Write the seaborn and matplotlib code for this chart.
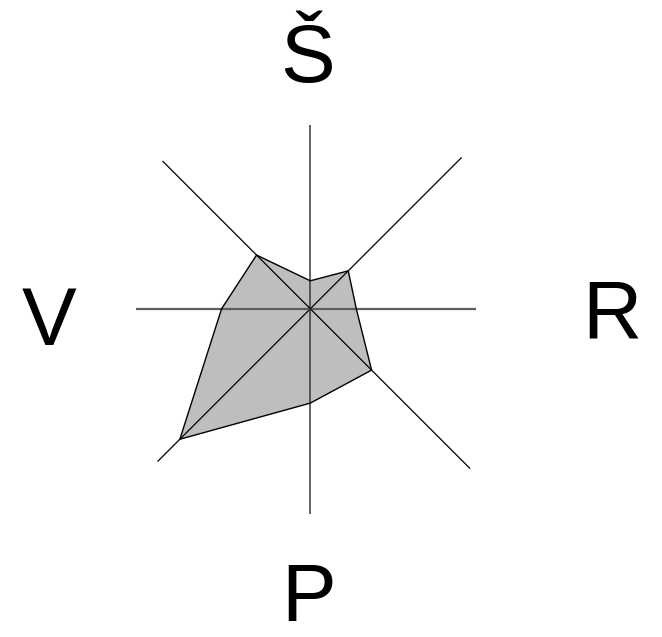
import numpy as np
import pandas as pd
import matplotlib
matplotlib.use("Agg")
import matplotlib.pyplot as plt
import seaborn as sns

# ---- data -------------------------------------------------------------
# 8 spokes, clockwise starting from the top
spoke_labels = ["Š", "", "R", "", "P", "", "V", ""]
values = [28, 53.7, 46, 86.7, 94.3, 184.5, 88.7, 76]
spoke_lengths = [184, 214, 166, 226, 205, 216, 174, 209]

sns.set_style("white")
plt.rcParams["font.family"] = ["Liberation Sans", "DejaVu Sans"]

W, H, DPI = 662, 637, 100
fig = plt.figure(figsize=(W / DPI, H / DPI), dpi=DPI)
ax = fig.add_axes([0, 0, 1, 1])

cx, cy = 310.3, 308.8  # pixel position of the chart centre
ax.set_xlim(-cx, W - cx)
ax.set_ylim(-(H - cy), cy)
ax.set_aspect("equal")
ax.axis("off")

n = len(values)
theta = np.deg2rad(90 - 45 * np.arange(n))
vals = np.array(values, dtype=float)
px = vals * np.cos(theta)
py = vals * np.sin(theta)

poly = pd.DataFrame({"x": np.append(px, px[0]), "y": np.append(py, py[0]),
                     "order": np.arange(n + 1)})

# filled polygon
ax.fill(poly["x"], poly["y"], color="#bebebe", lw=0, zorder=1)

# spokes
L = np.array(spoke_lengths, dtype=float)
for i in range(n):
    ex, ey = L[i] * np.cos(theta[i]), L[i] * np.sin(theta[i])
    if i % 4 == 2:      # horizontal
        col, lw = "#5e5e5e", 1.6
    elif i % 4 == 0:    # vertical
        col, lw = "#3a3a3a", 1.1
    else:
        col, lw = "black", 0.9
    ax.plot([0, ex], [0, ey], color=col, lw=lw, zorder=2,
            solid_capstyle="butt")

# polygon outline
sns.lineplot(data=poly, x="x", y="y", sort=False, estimator=None,
             color="black", lw=1.0, ax=ax, zorder=3)

# labels (baseline anchored)
label_pos = {"Š": (-2.8, 226.8), "R": (302, -29.2), "P": (-1.5, -312.2),
             "V": (-261, -36.2)}
for lab in spoke_labels:
    if lab:
        x, y = label_pos[lab]
        ax.text(x, y, lab, fontsize=59, ha="center", va="baseline",
                color="black")

fig.savefig("out.png", dpi=DPI)
